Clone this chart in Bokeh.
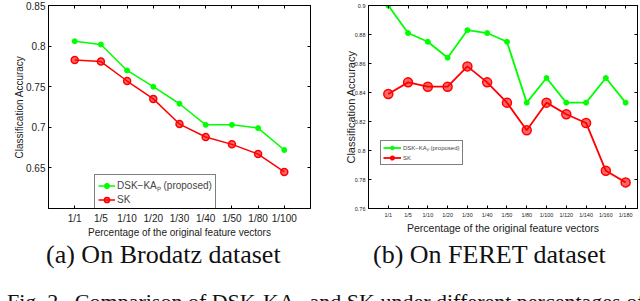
from bokeh.plotting import figure
from bokeh.models import (Range1d, FixedTicker, LinearAxis, Legend, LegendItem, Div,
                          CustomJSTickFormatter)
from bokeh.layouts import row, column
from bokeh.embed import file_html
from bokeh.resources import INLINE

# ---- data ----
brodatz_labels = ["1/1", "1/5", "1/10", "1/20", "1/30", "1/40", "1/50", "1/80", "1/100"]
brodatz_dsk = [0.806, 0.802, 0.770, 0.750, 0.729, 0.703, 0.703, 0.699, 0.672]
brodatz_sk = [0.783, 0.781, 0.757, 0.735, 0.704, 0.688, 0.679, 0.667, 0.645]
brodatz_yticks = [0.65, 0.7, 0.75, 0.8, 0.85]
brodatz_ytick_labels = ["0.65", "0.7", "0.75", "0.8", "0.85"]

feret_labels = ["1/1", "1/5", "1/10", "1/20", "1/30", "1/40", "1/50", "1/80",
                "1/100", "1/120", "1/140", "1/160", "1/180"]
feret_dsk = [0.900, 0.881, 0.875, 0.864, 0.883, 0.881, 0.875, 0.833, 0.850, 0.833, 0.833, 0.850, 0.833]
feret_sk = [0.839, 0.847, 0.844, 0.844, 0.858, 0.847, 0.833, 0.814, 0.833, 0.825, 0.819, 0.786, 0.778]
feret_yticks = [0.76, 0.78, 0.8, 0.82, 0.84, 0.86, 0.88, 0.9]
feret_ytick_labels = ["0.76", "0.78", "0.8", "0.82", "0.84", "0.86", "0.88", "0.9"]

legend_dsk = "DSK\u2212KA\u209a (proposed)"
legend_sk = "SK"
xlabel = "Percentage of the original feature vectors"
ylabel = "Classification Accuracy"
caption_a = "(a) On Brodatz dataset"
caption_b = "(b) On FERET dataset"
fig_caption = "Fig. 2.&nbsp;&nbsp;Comparison of DSK-KA<sub>p</sub> and SK under different percentages of the original feature vectors"

FONT = "Liberation Sans"
GREEN = "#00ff00"
RED = "#ff0000"


def make_plot(labels, dsk, sk, yticks, yticklabels, ylo, yhi, xhi,
              border_left, border_right, border_top, border_bottom,
              tick_fs, tick_standoff, xlab_fs, xlab_standoff, ylab_fs, ylab_standoff,
              leg_fs, leg_loc, glyph_w, label_h, leg_pad, lw, red_size, green_size):
    xs = list(range(1, len(labels) + 1))
    p = figure(width=320, height=240, output_backend="svg", toolbar_location=None,
               x_range=Range1d(0, xhi), y_range=Range1d(ylo, yhi),
               min_border_left=border_left, min_border_right=border_right,
               min_border_top=border_top, min_border_bottom=border_bottom)
    p.background_fill_color = "white"
    p.border_fill_color = "white"
    p.outline_line_color = "black"
    p.outline_line_width = 1
    p.grid.visible = False

    xticker = FixedTicker(ticks=xs)
    yticker = FixedTicker(ticks=yticks)
    p.xaxis.ticker = xticker
    p.yaxis.ticker = yticker
    p.xaxis.major_label_overrides = {x: l for x, l in zip(xs, labels)}
    p.yaxis.major_label_overrides = {t: l for t, l in zip(yticks, yticklabels)}
    for ax in (p.xaxis[0], p.yaxis[0]):
        ax.major_tick_in = 3
        ax.major_tick_out = 0
        ax.minor_tick_line_color = None
        ax.axis_line_color = "black"
        ax.major_label_text_font = FONT
        ax.major_label_text_font_size = tick_fs
        ax.major_label_text_color = "#222222"
        ax.axis_label_text_font = FONT
        ax.axis_label_text_font_style = "normal"
        ax.axis_label_text_color = "#222222"
    p.xaxis.axis_label = xlabel
    p.yaxis.axis_label = ylabel
    p.xaxis.axis_label_text_font_size = xlab_fs
    p.yaxis.axis_label_text_font_size = ylab_fs
    p.xaxis.major_label_standoff = tick_standoff
    p.xaxis.axis_label_standoff = xlab_standoff
    p.yaxis.major_label_standoff = 3
    p.yaxis.axis_label_standoff = ylab_standoff

    # mirrored inward ticks on top and right
    blank = CustomJSTickFormatter(code="return ''")
    top = LinearAxis(ticker=xticker, formatter=blank, major_tick_in=3, major_tick_out=0,
                     minor_tick_line_color=None, major_label_text_color=None,
                     major_label_standoff=0, axis_line_color="black")
    right = LinearAxis(ticker=yticker, formatter=blank, major_tick_in=3, major_tick_out=0,
                       minor_tick_line_color=None, major_label_text_color=None,
                       major_label_standoff=0, axis_line_color="black")
    p.add_layout(top, "above")
    p.add_layout(right, "right")

    gl = p.line(xs, dsk, line_color=GREEN, line_width=lw)
    gs = p.scatter(xs, dsk, marker="circle", size=green_size, fill_color=GREEN, line_color=GREEN)
    rl = p.line(xs, sk, line_color=RED, line_width=lw)
    rs = p.scatter(xs, sk, marker="circle", size=red_size, fill_color=RED, fill_alpha=0.6,
                   line_color=RED, line_width=1.5)

    legend = Legend(items=[LegendItem(label=legend_dsk, renderers=[gl, gs]),
                           LegendItem(label=legend_sk, renderers=[rl, rs])],
                    location=leg_loc, label_text_font=FONT, label_text_font_size=leg_fs,
                    glyph_width=glyph_w, glyph_height=label_h, label_height=label_h,
                    label_standoff=2, padding=leg_pad, spacing=1, margin=0,
                    border_line_color="black", border_line_width=1,
                    background_fill_color="white", background_fill_alpha=1)
    p.add_layout(legend, "center")
    return p


p1 = make_plot(brodatz_labels, brodatz_dsk, brodatz_sk, brodatz_yticks, brodatz_ytick_labels,
               0.6, 0.85, 10,
               48, 10, 5, 28,
               "10px", 4, "10px", 0, "10px", -2,
               "10px", (46, -2), 17, 13, 3, 1.5, 7, 5)
p2 = make_plot(feret_labels, feret_dsk, feret_sk, feret_yticks, feret_ytick_labels,
               0.76, 0.9, 13.6,
               48, 3, 3, 25,
               "5.5px", 3, "10.5px", 1, "11px", -5,
               "6px", (12, 43), 18, 9, 2, 1.8, 9, 5)


def caption_div(text, start):
    return Div(text=('<div style="width:320px;text-align:left;white-space:nowrap;'
                     'font-family:\'Liberation Serif\';font-size:26px;line-height:20px;'
                     'color:#111;padding-left:%dpx;box-sizing:border-box">%s</div>') % (start, text),
               width=320, height=30)


cap_a = caption_div(caption_a, 41)
cap_b = caption_div(caption_b, 38)

fig_cap = Div(text=('<div style="position:relative;top:6px;white-space:nowrap;font-family:\'Liberation Serif\';'
                    'font-size:22px;line-height:22px;color:#111;margin-left:2px">%s</div>') % fig_caption,
              width=640, height=31, styles={"overflow": "hidden"})

layout = column(row(p1, p2), row(cap_a, cap_b), fig_cap)
open("out.html", "w").write(file_html(layout, INLINE))
